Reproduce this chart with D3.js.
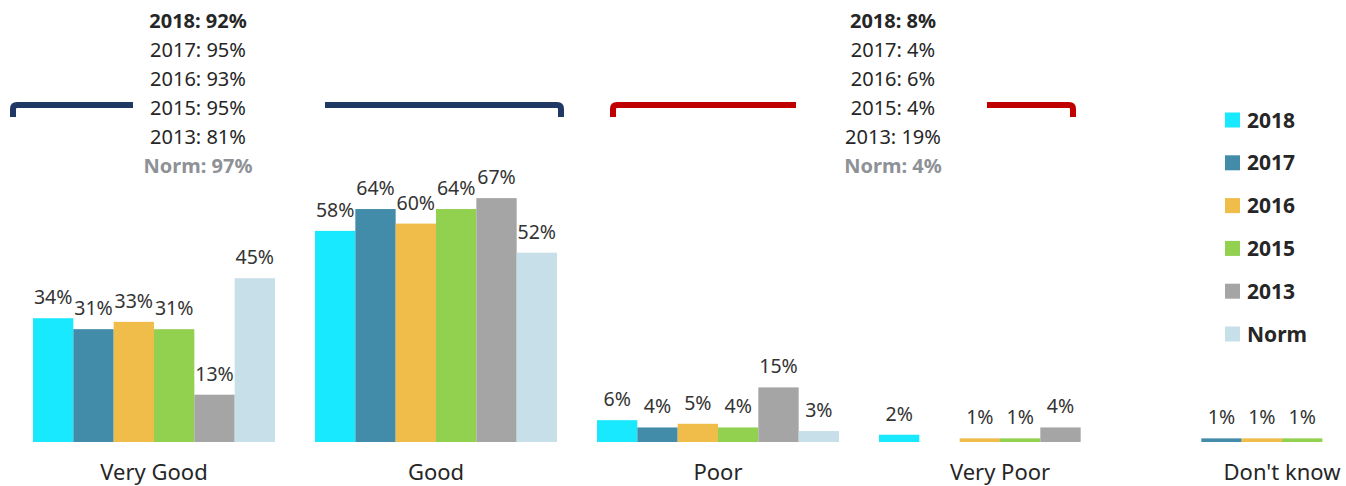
<!DOCTYPE html>
<html>
<head>
<meta charset="utf-8">
<script src="https://cdn.jsdelivr.net/npm/d3@7"></script>
<style>
  body { margin: 0; background: #fff; }
  svg { display: block; font-family: "Noto Sans", sans-serif; }
</style>
</head>
<body>
<svg id="chart" width="1346" height="486"></svg>
<script>
const categories = ["Very Good", "Good", "Poor", "Very Poor", "Don't know"];
const seriesNames = ["2018", "2017", "2016", "2015", "2013", "Norm"];
const colors = ["#19E9FF", "#428CA9", "#F0BC4A", "#92D050", "#A5A5A5", "#C6DFE8"];

// one array per series, in category order (null = no bar)
const values2018 = [34, 58, 6, 2, null];
const values2017 = [31, 64, 4, null, 1];
const values2016 = [33, 60, 5, 1, 1];
const values2015 = [31, 64, 4, 1, 1];
const values2013 = [13, 67, 15, 4, null];
const valuesNorm = [45, 52, 3, null, null];

// bracket summaries
const goodSummary = ["2018: 92%", "2017: 95%", "2016: 93%", "2015: 95%", "2013: 81%", "Norm: 97%"];
const poorSummary = ["2018: 8%", "2017: 4%", "2016: 6%", "2015: 4%", "2013: 19%", "Norm: 4%"];

const allValues = [values2018, values2017, values2016, values2015, values2013, valuesNorm];

const svg = d3.select("#chart");
const baseline = 442;

const x0 = d3.scaleBand()
    .domain(categories)
    .range([13, 1423]);

const x1 = d3.scaleBand()
    .domain(seriesNames)
    .range([20, 262]);

const y = d3.scaleLinear()
    .domain([0, 100])
    .range([baseline, baseline - 364]);

const color = d3.scaleOrdinal().domain(seriesNames).range(colors);

const flat = [];
seriesNames.forEach((s, si) => {
    categories.forEach((c, ci) => {
        const v = allValues[si][ci];
        if (v !== null) flat.push({ series: s, category: c, value: v });
    });
});

// bars
svg.append("g")
    .selectAll("rect")
    .data(flat)
    .join("rect")
    .attr("x", d => x0(d.category) + x1(d.series))
    .attr("y", d => y(d.value))
    .attr("width", x1.bandwidth())
    .attr("height", d => y(0) - y(d.value))
    .attr("fill", d => color(d.series));

// value labels
svg.append("g")
    .selectAll("text")
    .data(flat)
    .join("text")
    .attr("x", d => x0(d.category) + x1(d.series) + x1.bandwidth() / 2)
    .attr("y", d => y(d.value) - 14)
    .attr("text-anchor", "middle")
    .attr("font-size", "19.5px")
    .attr("fill", "#333")
    .text(d => d.value + "%");

// category axis labels
svg.append("g")
    .selectAll("text")
    .data(categories)
    .join("text")
    .attr("x", d => x0(d) + x0.bandwidth() / 2)
    .attr("y", 480)
    .attr("text-anchor", "middle")
    .attr("font-size", "22px")
    .attr("fill", "#262626")
    .text(d => d);

// brackets with a gap for the summary text
function bracket(xl, xr, gapL, gapR, stroke) {
    const top = 105, leg = 117, r = 4;
    const g = svg.append("g")
        .attr("fill", "none")
        .attr("stroke", stroke)
        .attr("stroke-width", 6);
    g.append("path")
        .attr("d", `M${xl},${leg} V${top + r} Q${xl},${top} ${xl + r},${top} H${gapL}`);
    g.append("path")
        .attr("d", `M${gapR},${top} H${xr - r} Q${xr},${top} ${xr},${top + r} V${leg}`);
}
bracket(13, 561, 133, 325, "#1F3864");
bracket(613, 1073, 796, 987, "#C00000");

function summary(lines, cx) {
    svg.append("g")
        .selectAll("text")
        .data(lines)
        .join("text")
        .attr("x", cx)
        .attr("y", (d, i) => 28 + i * 29)
        .attr("text-anchor", "middle")
        .attr("font-size", "20px")
        .attr("font-weight", (d, i) => (i === 0 || i === lines.length - 1) ? "bold" : "normal")
        .attr("fill", (d, i) => i === lines.length - 1 ? "#8E9196" : "#262626")
        .text(d => d);
}
summary(goodSummary, 198);
summary(poorSummary, 893);

// legend
const legend = svg.append("g")
    .selectAll("g")
    .data(seriesNames)
    .join("g")
    .attr("transform", (d, i) => `translate(1225,${120 + i * 42.8})`);

legend.append("rect")
    .attr("x", 0)
    .attr("y", -7.5)
    .attr("width", 15)
    .attr("height", 15)
    .attr("fill", d => color(d));

legend.append("text")
    .attr("x", 22)
    .attr("y", 7.5)
    .attr("font-size", "21px")
    .attr("font-weight", "bold")
    .attr("fill", "#262626")
    .text(d => d);
</script>
</body>
</html>
